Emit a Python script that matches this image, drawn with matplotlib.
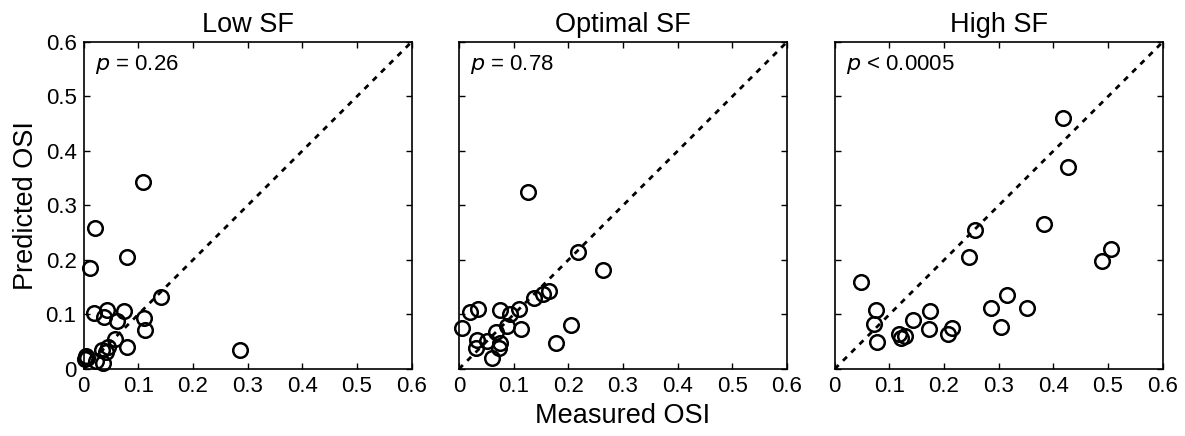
import matplotlib
matplotlib.use("Agg")
import matplotlib.pyplot as plt

plt.rcParams['font.family'] = ['Liberation Sans', 'DejaVu Sans']

titles = ["Low SF", "Optimal SF", "High SF"]
pvals = ["0.26", "0.78", "0.0005"]
prels = ["=", "=", "<"]

low_x = [0.109, 0.021, 0.011, 0.079, 0.142, 0.020, 0.043, 0.038, 0.074, 0.062, 0.111, 0.112,
         0.057, 0.079, 0.287, 0.044, 0.033, 0.041, 0.004, 0.007, 0.022, 0.036, 0.003]
low_y = [0.343, 0.258, 0.186, 0.205, 0.132, 0.102, 0.108, 0.095, 0.107, 0.088, 0.093, 0.072,
         0.055, 0.041, 0.035, 0.040, 0.034, 0.032, 0.024, 0.020, 0.014, 0.011, 0.018]

opt_x = [0.127, 0.218, 0.264, 0.137, 0.154, 0.164, 0.075, 0.110, 0.093, 0.020, 0.034, 0.005,
         0.087, 0.113, 0.067, 0.205, 0.033, 0.052, 0.075, 0.032, 0.074, 0.177, 0.061]
opt_y = [0.324, 0.214, 0.182, 0.130, 0.138, 0.143, 0.108, 0.110, 0.101, 0.104, 0.110, 0.076,
         0.079, 0.073, 0.068, 0.081, 0.053, 0.051, 0.047, 0.039, 0.038, 0.047, 0.020]

high_x = [0.048, 0.075, 0.072, 0.078, 0.118, 0.121, 0.129, 0.143, 0.174, 0.172, 0.208, 0.215,
          0.257, 0.246, 0.286, 0.316, 0.304, 0.352, 0.382, 0.418, 0.427, 0.489, 0.506]
high_y = [0.160, 0.108, 0.083, 0.049, 0.065, 0.056, 0.060, 0.090, 0.107, 0.074, 0.065, 0.075,
          0.255, 0.205, 0.112, 0.135, 0.077, 0.111, 0.266, 0.460, 0.370, 0.198, 0.221]

xs = [low_x, opt_x, high_x]
ys = [low_y, opt_y, high_y]

ticks = [0, 0.1, 0.2, 0.3, 0.4, 0.5, 0.6]
ticklabels = ["0", "0.1", "0.2", "0.3", "0.4", "0.5", "0.6"]

fig = plt.figure(figsize=(11.85, 4.36), dpi=100)
lefts = [0.0705, 0.3873, 0.7044]
for i in range(3):
    ax = fig.add_axes([lefts[i], 0.1537, 0.2768, 0.75])
    ax.plot([0, 0.6], [0, 0.6], color='black', lw=2, linestyle=(0, (2, 2.2)))
    ax.plot(xs[i], ys[i], linestyle='none', marker='o', markersize=10.5,
            markerfacecolor='none', markeredgecolor='black', markeredgewidth=1.8,
            clip_on=False)
    ax.set_xlim(0, 0.6)
    ax.set_ylim(0, 0.6)
    ax.set_xticks(ticks)
    ax.set_xticklabels(ticklabels)
    ax.set_yticks(ticks)
    if i == 0:
        ax.set_yticklabels(ticklabels)
    else:
        ax.set_yticklabels([])
    ax.tick_params(direction='in', top=True, right=True, length=4, width=1,
                   labelsize=16, pad=5)
    for s in ax.spines.values():
        s.set_linewidth(1.2)
    ax.set_title(titles[i], fontsize=19.5, pad=7)
    ax.text(0.035, 0.965, r"$\it{p}$ " + prels[i] + " " + pvals[i], transform=ax.transAxes,
            ha='left', va='top', fontsize=16)

fig.text(0.525, 0.015, "Measured OSI", ha='center', va='bottom', fontsize=19.5)
fig.text(0.011, 0.528, "Predicted OSI", ha='left', va='center', rotation=90, fontsize=19.5)

fig.savefig("out.png", dpi=100)
